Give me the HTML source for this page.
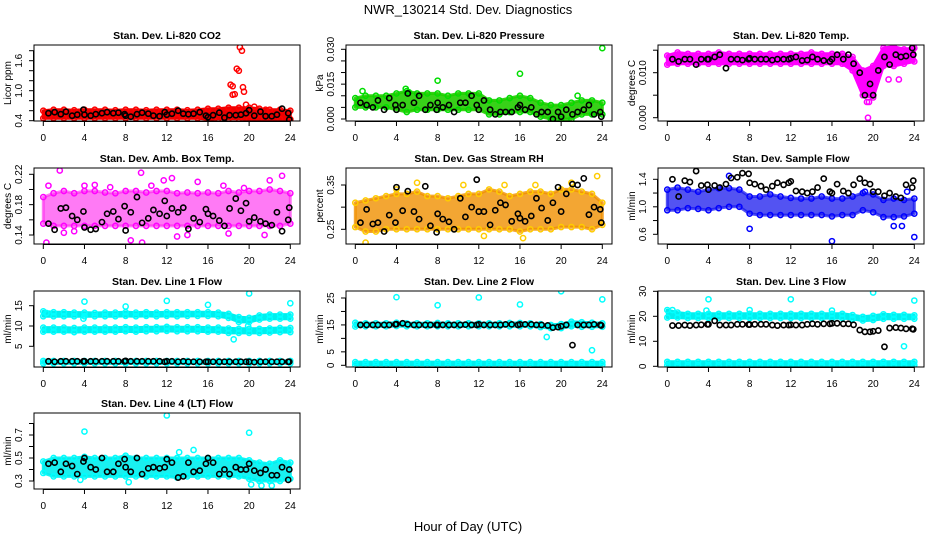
<!DOCTYPE html>
<html><head><meta charset="utf-8">
<style>
html,body{margin:0;padding:0;background:#fff;}
svg{display:block;font-family:"Liberation Sans",sans-serif;}
</style></head>
<body>
<svg id="chart" width="936" height="540" viewBox="0 0 936 540">
<text x="468" y="14" text-anchor="middle" font-size="13">NWR_130214  Std. Dev. Diagnostics</text>
<text x="468" y="531" text-anchor="middle" font-size="13">Hour of Day (UTC)</text>
</svg>
<script>
// ---- shared x data ----
const bandHours = [0,1,2,3,4,5,6,7,8,9,10,11,12,13,14,15,16,17,18,19,20,21,22,23,24];
const blackHours = [0.5,1.1,1.7,2.2,2.8,3.3,3.9,4,4.6,5.1,5.7,6.2,6.8,7.3,7.9,8,8.5,9.1,9.6,10.2,10.7,11.3,11.8,12,12.5,13.1,13.6,14.1,14.6,15.2,15.8,16,16.5,17.1,17.6,18.1,18.7,19.2,19.7,20,20.5,21.1,21.6,22.2,22.7,23.2,23.8,23.9];
const xTicks = [0,4,8,12,16,20,24];

// ---- CO2 ----
const co2Lo = [0.45,0.45,0.45,0.45,0.45,0.45,0.45,0.45,0.45,0.45,0.45,0.45,0.45,0.45,0.45,0.45,0.43,0.44,0.44,0.44,0.43,0.43,0.42,0.43,0.43];
const co2Hi = [0.6,0.62,0.62,0.61,0.62,0.62,0.62,0.61,0.62,0.62,0.61,0.62,0.62,0.62,0.61,0.62,0.64,0.64,0.66,0.66,0.66,0.64,0.62,0.62,0.6];
const co2OutX = [19.1,19.3,18.8,19.0,18.2,18.4,18.4,18.6,19.4,19.5,19.7,20.5,21.6];
const co2OutY = [1.87,1.8,1.44,1.4,1.12,1.09,0.92,0.93,1.07,0.98,0.72,0.68,0.62];
const co2Black = [0.55,0.57,0.53,0.58,0.5,0.52,0.62,0.52,0.5,0.53,0.55,0.57,0.55,0.56,0.53,0.5,0.48,0.53,0.56,0.54,0.5,0.49,0.57,0.52,0.54,0.6,0.54,0.53,0.54,0.57,0.5,0.47,0.51,0.56,0.46,0.51,0.51,0.52,0.55,0.61,0.5,0.58,0.49,0.49,0.52,0.64,0.55,0.42];

// ---- Pressure ----
const presLo = [0.005,0.005,0.005,0.005,0.004,0.003,0.004,0.004,0.004,0.004,0.004,0.004,0.004,0.002,0.002,0.003,0.003,0.003,0.001,0,0,0,0.002,0.002,0.002];
const presHi = [0.009,0.01,0.01,0.01,0.011,0.012,0.011,0.011,0.011,0.01,0.011,0.011,0.011,0.008,0.008,0.009,0.01,0.009,0.007,0.006,0.006,0.007,0.008,0.008,0.007];
const presOutX = [5.2,8,16,24,4.9,21.6,0.7];
const presOutY = [0.0115,0.0165,0.0195,0.0305,0.013,0.01,0.012];
const presBlack = [0.007,0.006,0.005,0.008,0.004,0.009,0.006,0.004,0.006,0.011,0.007,0.01,0.004,0.006,0.004,0.007,0.005,0.006,0.003,0.007,0.007,0.01,0.006,0.004,0.008,0.004,0.002,0.003,0.003,0.003,0.005,0.006,0.004,0.005,0.002,0.003,0.003,0,0.003,0.001,0.004,0.002,0.003,0.004,0.006,0.002,0.003,0.001];

// ---- Li-820 Temp ----
const tempLo = [0.0118,0.012,0.012,0.012,0.012,0.012,0.012,0.012,0.012,0.012,0.012,0.012,0.012,0.012,0.012,0.012,0.012,0.012,0.0105,0.005,0.0045,0.0115,0.0115,0.012,0.0125];
const tempHi = [0.0138,0.0145,0.0142,0.0142,0.0142,0.0145,0.0142,0.0142,0.0142,0.0142,0.0142,0.0142,0.0142,0.0142,0.0145,0.0142,0.0142,0.0142,0.0135,0.0105,0.0115,0.0155,0.0158,0.0152,0.0155];
const tempOutX = [19.5,21.5,22.5,19.4,19.6,19.3];
const tempOutY = [0.0,0.0085,0.0085,0.0035,0.0035,0.0065];
const tempBlack = [0.013,0.0125,0.013,0.013,0.0118,0.013,0.013,0.013,0.0135,0.014,0.011,0.013,0.013,0.0128,0.013,0.0132,0.013,0.013,0.013,0.0128,0.013,0.013,0.013,0.0132,0.0135,0.0127,0.0128,0.0135,0.013,0.0127,0.0125,0.013,0.014,0.013,0.014,0.012,0.01,0.005,0.0075,0.005,0.0105,0.0135,0.0118,0.014,0.0135,0.0137,0.0155,0.014];

// ---- Amb Box Temp ----
const ambLo = [0.155,0.152,0.152,0.152,0.152,0.152,0.152,0.152,0.152,0.152,0.152,0.152,0.152,0.152,0.152,0.152,0.152,0.152,0.152,0.152,0.152,0.152,0.152,0.152,0.155];
const ambHi = [0.19,0.195,0.198,0.195,0.198,0.198,0.196,0.195,0.198,0.198,0.196,0.198,0.198,0.195,0.196,0.195,0.196,0.195,0.198,0.196,0.198,0.198,0.2,0.198,0.195];
const ambOutX = [0.3,1.6,9.5,9.6,12.5,23.2,0.5,4,11.7,15,17.5,22,21.5,3,6.5,14,19.5,2,8.5,13,18,10.5,5];
const ambOutY = [0.13,0.225,0.222,0.13,0.215,0.218,0.205,0.205,0.212,0.21,0.205,0.212,0.14,0.145,0.203,0.14,0.202,0.143,0.133,0.138,0.142,0.205,0.206];
const ambBlack = [0.155,0.147,0.175,0.176,0.165,0.16,0.171,0.15,0.147,0.148,0.157,0.168,0.171,0.161,0.178,0.146,0.17,0.19,0.156,0.162,0.173,0.168,0.185,0.165,0.175,0.17,0.176,0.148,0.162,0.157,0.174,0.168,0.165,0.159,0.152,0.175,0.188,0.172,0.182,0.158,0.163,0.158,0.155,0.153,0.17,0.145,0.16,0.176];

// ---- Gas Stream RH ----
const rhLo = [0.255,0.245,0.245,0.25,0.25,0.25,0.25,0.25,0.25,0.25,0.25,0.25,0.25,0.25,0.25,0.25,0.245,0.25,0.25,0.25,0.255,0.255,0.255,0.25,0.26];
const rhHi = [0.31,0.315,0.32,0.325,0.33,0.33,0.335,0.325,0.325,0.32,0.325,0.33,0.33,0.34,0.335,0.325,0.33,0.335,0.335,0.33,0.34,0.34,0.335,0.33,0.31];
const rhOutX = [1,23.5,6,4,10.5,14.5,17.5,21,12.5,16.3];
const rhOutY = [0.22,0.37,0.355,0.34,0.35,0.35,0.35,0.355,0.235,0.23];
const rhBlack = [0.265,0.295,0.262,0.265,0.245,0.282,0.265,0.345,0.292,0.336,0.29,0.273,0.347,0.258,0.243,0.285,0.273,0.267,0.25,0.32,0.278,0.3,0.362,0.29,0.29,0.26,0.293,0.31,0.305,0.268,0.285,0.275,0.268,0.28,0.32,0.298,0.27,0.31,0.345,0.29,0.33,0.352,0.35,0.365,0.283,0.3,0.295,0.265];

// ---- Sample Flow ----
const sfLo = [0.95,0.95,0.98,0.97,0.95,0.98,1.0,1.0,0.9,0.88,0.88,0.88,0.88,0.88,0.88,0.88,0.86,0.88,0.88,0.95,0.92,0.85,0.85,0.86,0.9];
const sfHi = [1.25,1.28,1.25,1.22,1.25,1.27,1.27,1.25,1.15,1.15,1.18,1.15,1.13,1.12,1.12,1.15,1.12,1.12,1.15,1.2,1.18,1.1,1.12,1.1,1.12];
const sfOutX = [8,16,24,6,22,22.8,23.3,19.2];
const sfOutY = [0.68,0.5,0.56,1.45,0.72,0.72,1.22,1.22];
const sfBlack = [1.4,1.15,1.38,1.36,1.52,1.31,1.32,1.25,1.31,1.28,1.33,1.42,1.43,1.49,1.48,1.35,1.33,1.3,1.25,1.3,1.35,1.32,1.35,1.37,1.23,1.22,1.2,1.22,1.28,1.41,1.22,1.2,1.33,1.23,1.2,1.32,1.41,1.35,1.33,1.22,1.22,1.16,1.2,1.15,1.13,1.32,1.28,1.38];

// ---- Line 1 Flow ----
const l1aLo = [12.4,12.4,12.4,12.4,12.4,12.4,12.4,12.4,12.5,12.4,12.5,12.4,12.5,12.4,12.5,12.5,12.5,12.4,12.0,11.0,11.0,11.6,11.8,11.8,11.8];
const l1aHi = [13.6,13.4,13.4,13.3,13.3,13.2,13.3,13.3,13.4,13.3,13.4,13.3,13.4,13.4,13.4,13.4,13.4,13.3,13.0,12.2,12.0,12.6,12.8,12.8,12.8];
const l1bLo = [8.6,8.6,8.6,8.5,8.6,8.6,8.6,8.6,8.7,8.6,8.7,8.7,8.8,8.7,8.7,8.7,8.6,8.6,8.3,8.3,8.3,8.3,8.4,8.5,8.5];
const l1bHi = [9.6,9.6,9.6,9.5,9.6,9.6,9.6,9.6,9.7,9.6,9.7,9.7,9.8,9.7,9.7,9.7,9.6,9.6,9.4,9.3,9.3,9.3,9.4,9.5,9.5];
const l1cLo = [0.8,0.8,0.8,0.8,0.8,0.8,0.8,0.8,0.8,0.8,0.8,0.8,0.8,0.8,0.8,0.8,0.8,0.8,0.8,0.8,0.8,0.8,0.8,0.8,0.8];
const l1cHi = [1.4,1.4,1.4,1.4,1.4,1.4,1.4,1.4,1.4,1.4,1.4,1.4,1.4,1.4,1.4,1.4,1.4,1.4,1.4,1.4,1.4,1.4,1.4,1.4,1.4];
const l1OutX = [4,8,12,16,20,24,18.5,19.9,3.9,0.3];
const l1OutY = [16,14.8,16.2,15.2,18,15.6,6.7,10,11.8,13.2];
const l1Black = [1.3,1.2,1.3,1.3,1.3,1.3,1.3,1.3,1.3,1.3,1.3,1.3,1.3,1.3,1.3,1.4,1.3,1.3,1.3,1.3,1.3,1.3,1.2,1.3,1.3,1.2,1.3,1.2,1.2,1.2,1.2,1.2,1.2,1.2,1.2,1.2,1.2,1.2,1.2,1.2,1.1,1.2,1.2,1.2,1.2,1.2,1.2,1.2];

// ---- Line 2 Flow ----
const l2aLo = [14.4,14.5,14.5,14.5,14.6,14.5,14.5,14.5,14.5,14.5,14.5,14.5,14.5,14.5,14.5,14.5,14.5,14.5,14.2,13.8,13.8,14.5,14.3,14.3,14.3];
const l2aHi = [15.8,15.6,15.6,15.6,15.8,15.6,15.6,15.6,15.7,15.6,15.6,15.6,15.6,15.6,15.6,15.7,15.7,15.6,15.3,15.0,15.3,16.2,16.0,15.8,15.6];
const l2bLo = [0.2,0.2,0.2,0.2,0.2,0.2,0.2,0.2,0.2,0.2,0.2,0.2,0.2,0.2,0.2,0.2,0.2,0.2,0.0,0.0,0.0,0.0,0.2,0.0,0.2];
const l2bHi = [1.2,1.2,1.2,1.2,1.2,1.2,1.2,1.2,1.2,1.2,1.2,1.2,1.2,1.2,1.2,1.2,1.2,1.2,1.2,1.2,1.2,1.2,1.2,1.2,1.2];
const l2OutX = [4,8,12,16,20,24,18.6,23];
const l2OutY = [25.3,22.3,25.2,22.6,27.5,24.5,10.5,5.6];
const l2Black = [15,15,15,15,15,15,15.2,15.3,15.6,15.2,15,15,15,15,15,15,15,15,15,15,15.1,15,15,15.2,15,15,15,15,15.2,15.2,15,15.2,15.2,15.2,15,15,14.8,14,14.2,14.5,15,7.5,15,15,15,15.2,15,14.8];

// ---- Line 3 Flow ----
const l3aLo = [19.5,19.5,19.3,19.3,19.3,19.3,19.3,19.3,19.3,19.3,19.3,19.3,19.3,19.3,19.3,19.3,19.3,19.3,19.0,18.3,18.5,19.0,19.0,19.0,19.0];
const l3aHi = [22.5,21.5,21.0,21.0,21.0,21.0,21.0,21.0,21.0,21.0,21.0,21.0,21.0,21.0,21.0,21.0,21.0,21.0,20.5,19.8,20.2,20.8,20.6,20.6,20.4];
const l3bLo = [0.5,0.5,0.5,0.5,0.5,0.5,0.5,0.5,0.5,0.5,0.5,0.5,0.5,0.5,0.5,0.5,0.5,0.5,0.5,0.5,0.5,0.5,0.5,0.5,0.5];
const l3bHi = [1.8,1.8,1.8,1.8,1.8,1.8,1.8,1.8,1.8,1.8,1.8,1.8,1.8,1.8,1.8,1.8,1.8,1.8,1.8,1.8,1.8,1.8,1.8,1.8,1.8];
const l3OutX = [4,12,20,24,23,0.5,8,16,3.8];
const l3OutY = [26.8,26.8,29.5,26.3,8,22.5,22.5,22.3,22.3];
const l3Black = [16.3,16.3,16.5,16.3,16.5,16.6,16.8,16.8,18.2,16.5,16.5,16.5,16.8,16.8,16.7,16.7,16.8,16.8,16.8,16.5,16.3,16.5,16.5,16.6,16.5,16.5,16.8,17,16.8,17,17,17.2,17.2,17,17,16.6,14.5,13.8,13.8,14,14.3,7.8,15.3,15.5,15.3,15,15,14.8];

// ---- Line 4 Flow ----
const l4Lo = [0.37,0.34,0.34,0.34,0.34,0.34,0.34,0.34,0.34,0.34,0.34,0.34,0.34,0.33,0.34,0.34,0.34,0.34,0.34,0.34,0.32,0.3,0.3,0.3,0.32];
const l4Hi = [0.47,0.5,0.5,0.5,0.51,0.5,0.5,0.5,0.52,0.5,0.5,0.5,0.5,0.5,0.5,0.5,0.5,0.5,0.5,0.5,0.48,0.46,0.45,0.48,0.46];
const l4OutX = [4,12,20,13.2,14.6,20.2,21.2,22.2,3.6,8.3];
const l4OutY = [0.73,0.87,0.72,0.55,0.57,0.27,0.26,0.26,0.31,0.29];
const l4Black = [0.45,0.46,0.38,0.45,0.43,0.36,0.47,0.5,0.42,0.4,0.5,0.38,0.38,0.45,0.49,0.42,0.38,0.5,0.36,0.41,0.42,0.41,0.42,0.49,0.46,0.33,0.34,0.46,0.38,0.39,0.45,0.5,0.46,0.36,0.4,0.36,0.42,0.4,0.4,0.45,0.39,0.37,0.4,0.35,0.35,0.42,0.31,0.4];

// ---- layout & rendering ----
const NS = 'http://www.w3.org/2000/svg';
const svg = document.getElementById('chart');
const colX = [34,346,658];
const rowY = [45,168,291,413];
const BOXW = 266, BOXH = 76;

function mk(tag, attrs, parent){
  const e = document.createElementNS(NS, tag);
  for (const k in attrs) e.setAttribute(k, attrs[k]);
  (parent||svg).appendChild(e);
  return e;
}

function panel(p){
  const g = mk('g', {});
  
  
  const L = colX[p.col], T = rowY[p.row], B = T + BOXH;
  const xs = h => L + 9.3 + h * 247 / 24;
  const ys = v => p.py0 + (v - p.v0) * (p.py1 - p.py0) / (p.v1 - p.v0);
  const clip = 'clip' + p.name;
  const cp = mk('clipPath', {id: clip}, g);
  mk('rect', {x: L, y: T, width: BOXW, height: BOXH}, cp);
  const data = mk('g', {'clip-path': 'url(#' + clip + ')'}, g);
  p.bands.forEach((b) => {
    let d = '';
    bandHours.forEach((h, i) => { d += (i ? 'L' : 'M') + xs(h).toFixed(1) + ',' + ys(b[1][i]).toFixed(1); });
    for (let i = bandHours.length - 1; i >= 0; i--) d += 'L' + xs(bandHours[i]).toFixed(1) + ',' + ys(b[0][i]).toFixed(1);
    const band = mk('path', {d: d + 'Z', fill: p.fill, 'fill-opacity': p.op, stroke: p.fill, 'stroke-opacity': p.op, 'stroke-width': 3, 'stroke-linejoin': 'round'}, data);
    
    
    bandHours.forEach((h, i) => {
      [b[0][i], b[1][i]].forEach(v => {
        const c = mk('circle', {cx: xs(h), cy: ys(v), r: 2.6, fill: 'none', stroke: p.color, 'stroke-width': 1.5}, data);
        
        
      });
    });
  });
  p.outX.forEach((h, i) => {
    const c = mk('circle', {cx: xs(h), cy: ys(p.outY[i]), r: 2.6, fill: 'none', stroke: p.color, 'stroke-width': 1.5}, data);
    
    
  });
  blackHours.forEach((h, i) => {
    const c = mk('circle', {cx: xs(h), cy: ys(p.black[i]), r: 2.6, fill: 'none', stroke: '#000', 'stroke-width': 1.6}, data);
    
    
  });
  const box = mk('rect', {x: L, y: T, width: BOXW, height: BOXH, fill: 'none', stroke: '#000', 'stroke-width': 1}, g);
  
  
  const t = mk('text', {x: L + BOXW/2, y: T - 6, 'text-anchor': 'middle', 'font-size': 10.5, 'font-weight': 'bold'}, g);
  t.textContent = p.title;
  
  
  mk('line', {x1: xs(0), x2: xs(24), y1: B + 0.5, y2: B + 0.5, stroke: '#000'}, g);
  xTicks.forEach(h => {
    mk('line', {x1: xs(h), x2: xs(h), y1: B, y2: B + 5, stroke: '#000'}, g);
    const lt = mk('text', {x: xs(h), y: B + 20, 'text-anchor': 'middle', 'font-size': 10}, g);
    lt.textContent = h;
    
    
  });
  const yt = p.ticks;
  mk('line', {x1: L - 0.5, x2: L - 0.5, y1: ys(yt[0]), y2: ys(yt[yt.length-1]), stroke: '#000'}, g);
  yt.forEach(v => mk('line', {x1: L - 5, x2: L, y1: ys(v), y2: ys(v), stroke: '#000'}, g));
  p.labels.forEach((lab, i) => {
    const yy = ys(p.labelVals[i]);
    const lt = mk('text', {x: 0, y: 0, 'text-anchor': 'middle', 'font-size': 10, transform: 'translate(' + (L - 12) + ',' + yy + ') rotate(-90)'}, g);
    lt.textContent = lab;
    
    
  });
  const yl = mk('text', {x: 0, y: 0, 'text-anchor': 'middle', 'font-size': 10, transform: 'translate(' + (L - 23) + ',' + (T + BOXH/2) + ') rotate(-90)'}, g);
  yl.textContent = p.ylab;
  
  
}

const panels = [
 {name:'co2-panel',col:0,row:0,title:'Stan. Dev. Li-820 CO2',ylab:'Licor ppm',v0:1.0,py0:90.7,v1:1.6,py1:60.7,ticks:[0.4,0.6,0.8,1.0,1.2,1.4,1.6,1.8],labels:['0.4','1.0','1.6'],labelVals:[0.4,1.0,1.6],color:'#ff0000',fill:'#ee0000',op:1,bands:[[co2Lo,co2Hi]],outX:co2OutX,outY:co2OutY,black:co2Black},
 {name:'pressure-panel',col:1,row:0,title:'Stan. Dev. Li-820 Pressure',ylab:'kPa',v0:0,py0:119,v1:0.03,py1:49.3,ticks:[0,0.005,0.01,0.015,0.02,0.025,0.03],labels:['0.000','0.015','0.030'],labelVals:[0,0.015,0.03],color:'#00dd00',fill:'#22cc00',op:0.9,bands:[[presLo,presHi]],outX:presOutX,outY:presOutY,black:presBlack},
 {name:'temp-panel',col:2,row:0,title:'Stan. Dev. Li-820 Temp.',ylab:'degrees C',v0:0,py0:117.7,v1:0.01,py1:72.7,ticks:[0,0.005,0.01,0.015],labels:['0.000','0.010'],labelVals:[0,0.01],color:'#ff00ff',fill:'#ff00ff',op:1,bands:[[tempLo,tempHi]],outX:tempOutX,outY:tempOutY,black:tempBlack},
 {name:'ambbox-panel',col:0,row:1,title:'Stan. Dev. Amb. Box Temp.',ylab:'degrees C',v0:0.14,py0:235,v1:0.22,py1:174.3,ticks:[0.14,0.16,0.18,0.2,0.22],labels:['0.14','0.18','0.22'],labelVals:[0.14,0.18,0.22],color:'#ff00ff',fill:'#ff22ee',op:0.6,bands:[[ambLo,ambHi]],outX:ambOutX,outY:ambOutY,black:ambBlack},
 {name:'rh-panel',col:1,row:1,title:'Stan. Dev. Gas Stream RH',ylab:'percent',v0:0.25,py0:229.3,v1:0.35,py1:185,ticks:[0.25,0.3,0.35],labels:['0.25','0.35'],labelVals:[0.25,0.35],color:'#ffcc00',fill:'#f09000',op:0.8,bands:[[rhLo,rhHi]],outX:rhOutX,outY:rhOutY,black:rhBlack},
 {name:'sampleflow-panel',col:2,row:1,title:'Stan. Dev. Sample Flow',ylab:'ml/min',v0:0.6,py0:234.3,v1:1.4,py1:179.3,ticks:[0.6,0.8,1.0,1.2,1.4],labels:['0.6','1.0','1.4'],labelVals:[0.6,1.0,1.4],color:'#0000ff',fill:'#1a1aee',op:0.75,bands:[[sfLo,sfHi]],outX:sfOutX,outY:sfOutY,black:sfBlack},
 {name:'line1-panel',col:0,row:2,title:'Stan. Dev. Line 1 Flow',ylab:'ml/min',v0:5,py0:346.3,v1:15,py1:305.7,ticks:[5,10,15],labels:['5','10','15'],labelVals:[5,10,15],color:'#00ffff',fill:'#00eeee',op:1,bands:[[l1aLo,l1aHi],[l1bLo,l1bHi],[l1cLo,l1cHi]],outX:l1OutX,outY:l1OutY,black:l1Black},
 {name:'line2-panel',col:1,row:2,title:'Stan. Dev. Line 2 Flow',ylab:'ml/min',v0:0,py0:365.3,v1:25,py1:298,ticks:[0,5,10,15,20,25],labels:['0','5','15','25'],labelVals:[0,5,15,25],color:'#00ffff',fill:'#00eeee',op:1,bands:[[l2aLo,l2aHi],[l2bLo,l2bHi]],outX:l2OutX,outY:l2OutY,black:l2Black},
 {name:'line3-panel',col:2,row:2,title:'Stan. Dev. Line 3 Flow',ylab:'ml/min',v0:0,py0:366.3,v1:30,py1:291.3,ticks:[0,10,20,30],labels:['0','10','20','30'],labelVals:[0,10,20,30],color:'#00ffff',fill:'#00eeee',op:1,bands:[[l3aLo,l3aHi],[l3bLo,l3bHi]],outX:l3OutX,outY:l3OutY,black:l3Black},
 {name:'line4-panel',col:0,row:3,title:'Stan. Dev. Line 4 (LT) Flow',ylab:'ml/min',v0:0.3,py0:481,v1:0.7,py1:435,ticks:[0.3,0.4,0.5,0.6,0.7,0.8],labels:['0.3','0.5','0.7'],labelVals:[0.3,0.5,0.7],color:'#00ffff',fill:'#00eeee',op:0.9,bands:[[l4Lo,l4Hi]],outX:l4OutX,outY:l4OutY,black:l4Black}
];
panels.forEach(panel);
</script>
</body></html>
